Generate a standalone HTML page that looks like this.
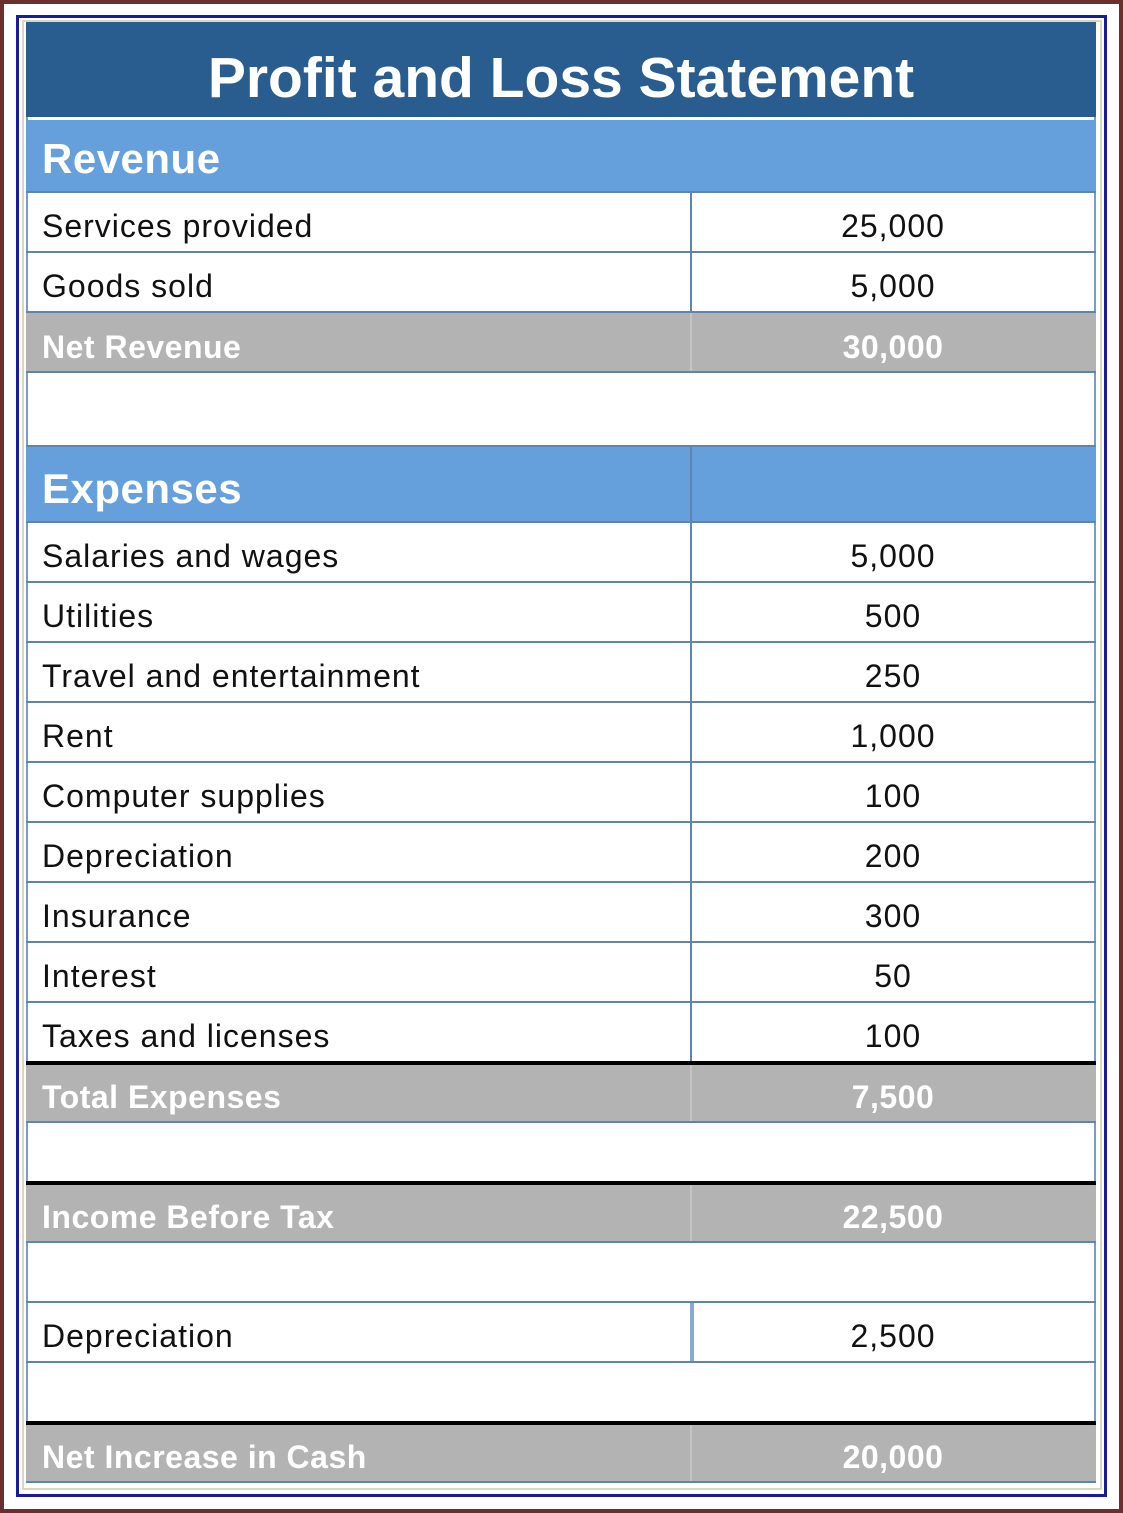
<!DOCTYPE html>
<html><head><meta charset="utf-8"><style>
*{margin:0;padding:0;box-sizing:border-box}
body{width:1123px;height:1513px;background:#fff;position:relative;overflow:hidden;font-family:"Liberation Sans",sans-serif}
.a{position:absolute}
.row{position:absolute;left:26px;width:1070px;border-bottom:2px solid #5f84ad}
.l{position:absolute;left:16px;font-size:32px;letter-spacing:1px;color:#111}
.v{position:absolute;left:664px;width:406px;text-align:center;font-size:32px;letter-spacing:1px;color:#111}
.div{position:absolute;left:664px;top:0;bottom:0;width:2px;background:#5f84ad}
.g{background:#b3b3b3}
.g .l,.g .v{color:#fff;font-weight:bold;letter-spacing:0.5px}
.g .div{background:#c4c4c4}
.h{background:#66a0dc}
.h .l{color:#fff;font-weight:bold;font-size:42px;letter-spacing:0.5px}
.blk{border-top:4px solid #000}
</style></head><body>
<div class="a" style="left:0;top:0;width:1123px;height:1513px;border:4px solid #6b2f2f"></div>
<div class="a" style="left:16px;top:15px;width:1091px;height:1482px;border:3px solid #1a1aa0"></div>
<div class="a" style="left:22px;top:20px;width:1080px;height:1470px;border:2px solid #d8d8c0"></div>
<div class="a" style="left:26px;top:22px;width:1070px;height:1461px;border-left:2px solid #7a9cc6;border-right:2px solid #7a9cc6"></div>
<div class="a" style="left:26px;top:22px;width:1070px;height:95px;background:#2a5d8f;color:#fff;font-weight:bold;font-size:57px;text-align:center;line-height:112px">Profit and Loss Statement</div>
<div class="row h" style="top:120px;height:73px"><div class="l" style="top:15px">Revenue</div></div>
<div class="row" style="top:193px;height:60px"><div class="div"></div><div class="l" style="top:15px">Services provided</div><div class="v" style="top:15px">25,000</div></div>
<div class="row" style="top:253px;height:60px"><div class="div"></div><div class="l" style="top:15px">Goods sold</div><div class="v" style="top:15px">5,000</div></div>
<div class="row g" style="top:313px;height:60px"><div class="div"></div><div class="l" style="top:16px">Net Revenue</div><div class="v" style="top:16px">30,000</div></div>
<div class="row" style="top:373px;height:74px"></div>
<div class="row h" style="top:447px;height:76px"><div class="div"></div><div class="l" style="top:18px">Expenses</div></div>
<div class="row" style="top:523px;height:60px"><div class="div"></div><div class="l" style="top:15px">Salaries and wages</div><div class="v" style="top:15px">5,000</div></div>
<div class="row" style="top:583px;height:60px"><div class="div"></div><div class="l" style="top:15px">Utilities</div><div class="v" style="top:15px">500</div></div>
<div class="row" style="top:643px;height:60px"><div class="div"></div><div class="l" style="top:15px">Travel and entertainment</div><div class="v" style="top:15px">250</div></div>
<div class="row" style="top:703px;height:60px"><div class="div"></div><div class="l" style="top:15px">Rent</div><div class="v" style="top:15px">1,000</div></div>
<div class="row" style="top:763px;height:60px"><div class="div"></div><div class="l" style="top:15px">Computer supplies</div><div class="v" style="top:15px">100</div></div>
<div class="row" style="top:823px;height:60px"><div class="div"></div><div class="l" style="top:15px">Depreciation</div><div class="v" style="top:15px">200</div></div>
<div class="row" style="top:883px;height:60px"><div class="div"></div><div class="l" style="top:15px">Insurance</div><div class="v" style="top:15px">300</div></div>
<div class="row" style="top:943px;height:60px"><div class="div"></div><div class="l" style="top:15px">Interest</div><div class="v" style="top:15px">50</div></div>
<div class="row" style="top:1003px;height:60px;border-bottom:none"><div class="div"></div><div class="l" style="top:15px">Taxes and licenses</div><div class="v" style="top:15px">100</div></div>
<div class="row g blk" style="top:1061px;height:62px"><div class="div"></div><div class="l" style="top:14px">Total Expenses</div><div class="v" style="top:14px">7,500</div></div>
<div class="row" style="top:1123px;height:58px;border-bottom:none"></div>
<div class="row g blk" style="top:1181px;height:62px"><div class="div"></div><div class="l" style="top:14px">Income Before Tax</div><div class="v" style="top:14px">22,500</div></div>
<div class="row" style="top:1243px;height:60px"></div>
<div class="row" style="top:1303px;height:60px"><div class="div" style="width:4px;background:#8aa8d0"></div><div class="l" style="top:15px">Depreciation</div><div class="v" style="top:15px">2,500</div></div>
<div class="row" style="top:1363px;height:58px;border-bottom:none"></div>
<div class="row g blk" style="top:1421px;height:62px"><div class="div"></div><div class="l" style="top:14px">Net Increase in Cash</div><div class="v" style="top:14px">20,000</div></div>
</body></html>
